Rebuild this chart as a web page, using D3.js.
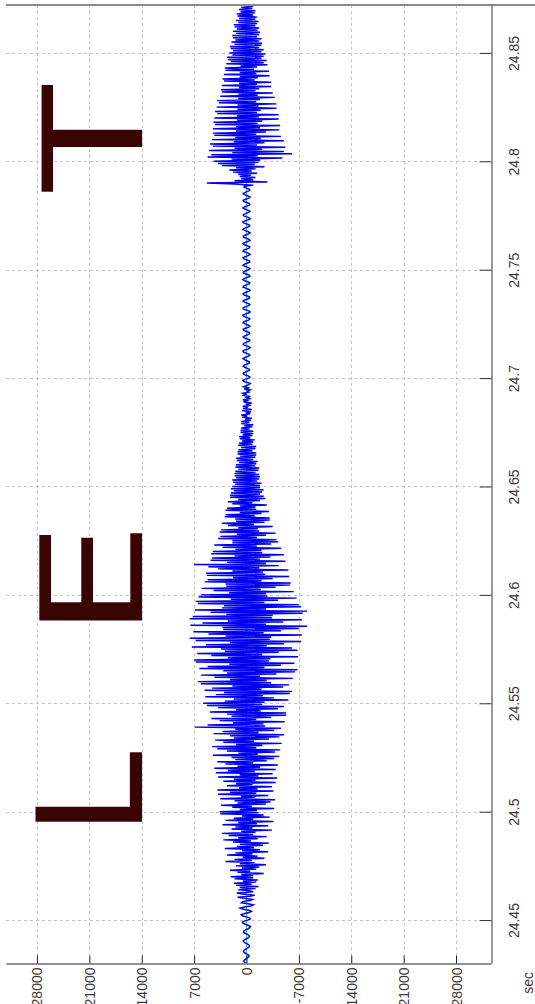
<!DOCTYPE html>
<html>
<head>
<meta charset="utf-8">
<script src="https://cdn.jsdelivr.net/npm/d3@7/dist/d3.min.js"></script>
<style>
  html, body { margin: 0; padding: 0; background: #ffffff; }
  svg { display: block; }
</style>
</head>
<body>
<svg id="chart" width="535" height="1004"></svg>
<script>
// ---------------- data ----------------
const timeTicks = [24.45, 24.5, 24.55, 24.6, 24.65, 24.7, 24.75, 24.8, 24.85];
const timeTickLabels = ["24.45", "24.5", "24.55", "24.6", "24.65", "24.7", "24.75", "24.8", "24.85"];
const ampTicks = [28000, 21000, 14000, 7000, 0, -7000, -14000, -21000, -28000];
const ampTickLabels = ["28000", "21000", "14000", "7000", "0", "-7000", "-14000", "-21000", "-28000"];
const timeLabel = "sec";
const timeDomain = [24.4302, 24.8721];
const ampDomain = [32141, -32676];

// waveform samples (one every 0.5 ms starting at 24.430 s)
const sampleStart = 24.430;
const sampleStep = 0.0005;
const amplitude = [
  100,250,380,300,120,-80,-260,-350,-200,50,
  280,420,350,150,-100,-300,-420,-330,-90,180,
  380,450,250,-50,-280,-400,-300,-60,220,400,
  350,120,-200,-450,-520,-250,100,420,560,300,
  -150,-500,-400,80,550,700,250,-350,-650,-300,
  400,850,300,-600,-900,-200,700,500,-450,-800,
  300,1200,-500,-1100,600,1300,-900,-400,1100,-1200,
  900,-1600,1400,-700,1700,-1300,500,-1500,1600,-900,
  2100,-900,700,-2300,1200,-500,2200,-1300,600,-1700,
  1400,-2600,900,-1100,2800,-700,1600,-2400,500,-1500,
  2600,-800,1500,-2900,600,-1800,2900,-1000,1300,-2200,
  900,-3000,1800,-600,3100,-1500,1100,-2700,2400,-900,
  3300,-1200,700,-3400,2000,-800,1500,-2900,3200,-1400,
  1100,-3600,2800,-900,1700,-3100,600,-2300,3500,-1600,
  3600,-1400,900,-3700,1900,-700,3400,-2600,1200,-3200,
  1600,-3800,3500,-1100,700,-2900,3800,-1300,2200,-3600,
  3900,-1500,1000,-3400,2600,-800,1400,-3900,3100,-1200,
  1700,-4100,3800,-1600,900,-3500,4100,-1100,2500,-3900,
  4300,-1800,1200,-4200,2800,-900,3900,-2700,1500,-3700,
  2000,-4400,4500,-1500,1100,-3800,2600,-4500,3900,-1300,
  4600,-2100,1400,-4700,3100,-1000,4200,-3000,1700,-4400,
  2200,-5000,4400,-1600,3200,-3700,1500,-4600,6900,-2500,
  5200,-2300,1800,-5100,3600,-1300,4700,-3300,2000,-5300,
  2600,-5300,4900,-1900,1400,-4200,3800,-5000,5300,-2100,
  5800,-2400,2900,-5600,1700,-3700,5500,-2200,4100,-5800,
  3000,-6100,5600,-2000,4600,-4900,1900,-5700,6100,-3300,
  6500,-2700,2200,-6200,4300,-1800,6100,-4000,2600,-6500,
  3100,-6800,6300,-2400,5200,-4600,2300,-6400,6800,-3000,
  7000,-3200,2500,-6900,4700,-2100,6600,-4300,2900,-6800,
  3400,-6100,7300,-2700,5400,-5000,2200,-7300,6800,-3100,
  7600,-3300,2800,-7400,5100,-2300,7100,-4600,3100,-7000,
  3200,-8100,7500,-2600,5900,-4900,2500,-7400,7600,-3400,
  7200,-3500,2700,-7500,4800,-8100,6900,-2600,3300,-7300,
  3000,-7000,6500,-2400,6800,-4200,2100,-6700,6400,-2800,
  6100,-2600,2300,-6300,4400,-1900,6000,-3900,2700,-5800,
  2800,-5900,5600,-2000,5200,-3500,1800,-5700,5300,-2500,
  5400,-2200,1900,-5600,3800,-1700,5100,-4300,7000,-2600,
  2600,-5200,4800,-1800,4600,-3200,1600,-5000,4700,-2100,
  4500,-2000,1500,-4600,3200,-1400,4300,-3300,1900,-4200,
  1900,-4000,3800,-1400,3500,-2600,1300,-3900,3600,-1700,
  3400,-1500,1100,-3500,2500,-1000,3300,-2400,1400,-3100,
  1500,-3100,2900,-1100,2800,-2000,900,-3000,2800,-1300,
  2600,-1200,900,-2700,1900,-800,2500,-1800,1100,-2500,
  2200,-2300,2200,-1800,2100,-2100,1700,-2300,2100,-1800,
  1900,-1800,1500,-2000,1800,-1400,1900,-1700,1400,-1800,
  1600,-1700,1600,-1200,1500,-1600,1100,-1700,1500,-1200,
  1400,-1300,1000,-1500,1300,-900,1400,-1200,900,-1300,
  1200,-1300,1200,-800,1100,-1200,700,-1300,1100,-800,
  1000,-900,600,-1100,900,-500,1000,-800,500,-900,
  800,-900,800,-400,700,-800,300,-900,700,-400,
  700,-600,200,-700,600,-100,700,-500,100,-600,
  600,-700,500,-200,500,-600,100,-700,400,-100,
  500,-400,0,-500,400,100,500,-300,-100,-500,
  300,-400,400,0,-300,-500,-100,400,500,100,
  -300,-450,-200,200,450,350,0,-350,-400,-100,
  250,450,300,-100,-400,-380,-50,300,450,200,
  -200,-450,-350,50,400,480,200,-250,-480,-300,
  100,420,400,50,-350,-450,-150,250,450,250,
  -150,-420,-380,0,380,450,150,-300,-450,-200,
  200,450,320,-80,-420,-400,-50,350,480,180,
  -250,-480,-300,100,450,420,50,-350,-460,-150,
  250,470,300,-120,-430,-380,0,380,450,150,
  -280,-470,-280,120,460,400,20,-380,-440,-100,
  300,480,250,-150,-460,-350,50,420,430,80,
  -320,-460,-220,180,470,330,-80,-440,-400,-30,
  350,460,200,-200,-470,-300,100,450,380,0,
  -380,-450,-150,250,480,280,-130,-460,-350,30,
  400,440,120,-280,-470,-240,170,470,330,-60,
  -400,-420,-80,320,480,200,-200,-470,-300,100,
  430,400,50,-340,-460,-160,240,480,260,-140,
  -440,-380,0,360,450,120,-280,-470,-220,180,
  450,330,-60,-400,-420,-60,320,300,-900,1500,
  5300,-2800,1600,-900,700,-1200,900,-600,1100,-1400,
  1800,-700,2300,-1200,1400,-2400,3300,-1100,3800,-1600,
  4400,-1800,2000,-4800,5200,-1500,4700,-6100,1900,-5000,
  5000,-2100,1600,-5200,4500,-1400,4900,-2400,1700,-5000,
  4600,-1900,1500,-4600,4300,-1300,4500,-2600,1400,-4400,
  4500,-1800,1400,-4500,4200,-1500,4400,-2100,1300,-4300,
  4300,-1700,1300,-4300,3900,-1400,4200,-1900,1200,-4000,
  4000,-1600,1200,-4000,3700,-1300,3900,-1800,1100,-3800,
  3500,-1500,1100,-3500,3300,-1200,3400,-1700,1000,-3300,
  3300,-1400,1000,-3300,3000,-1100,3200,-1500,900,-3100,
  3000,-1300,900,-3000,2800,-1000,2900,-1400,800,-2800,
  2700,-2300,2100,-2700,2500,-2000,2600,-2300,1900,-2500,
  2300,-2000,1800,-2300,2100,-1700,2200,-2000,1600,-2100,
  2000,-1700,1500,-2000,1800,-1400,1900,-1700,1400,-1800,
  1800,-1500,1300,-1700,1600,-1200,1700,-1400,1100,-1600,
  1400,-1200,1000,-1400,1200,-900,1300,-1100,800,-1200,
  1000,-800,700,-900
];
// reference trace (green) along zero
const refTimes = [24.4302, 24.8721];
const refValues = [0, 0];

// letter annotations (extent in data units)
const letterTexts = ["T", "E", "L"];
const letterTimeTop = [24.8357, 24.6286, 24.5280];
const letterTimeBottom = [24.7854, 24.5875, 24.4948];
const letterAmpLeft = [27597, 27731, 28265];
const letterAmpRight = [13966, 13966, 13966];

// ---------------- drawing ----------------
const svg = d3.select("#chart");
const plot = { left: 6, right: 491, top: 5, bottom: 963 };

const x = d3.scaleLinear().domain(ampDomain).range([plot.left, plot.right]);
const y = d3.scaleLinear().domain(timeDomain).range([plot.bottom, plot.top]);

const font = "'Liberation Sans', Arial, Helvetica, sans-serif";

// grid
const grid = svg.append("g").attr("class", "grid");
grid.selectAll("line.v").data(ampTicks).join("line")
  .attr("x1", d => Math.round(x(d)) + 0.5).attr("x2", d => Math.round(x(d)) + 0.5)
  .attr("y1", plot.top).attr("y2", plot.bottom)
  .attr("stroke", "#c4c4c4").attr("stroke-width", 1).attr("stroke-dasharray", "3,3");
grid.selectAll("line.h").data(timeTicks).join("line")
  .attr("y1", d => Math.round(y(d)) + 0.5).attr("y2", d => Math.round(y(d)) + 0.5)
  .attr("x1", plot.left).attr("x2", plot.right)
  .attr("stroke", "#c4c4c4").attr("stroke-width", 1).attr("stroke-dasharray", "3,3");

// letters
letterTexts.forEach((ch, i) => {
  const x0 = x(letterAmpLeft[i]), x1 = x(letterAmpRight[i]);
  const y0 = y(letterTimeTop[i]), y1 = y(letterTimeBottom[i]);
  const cvs = document.createElement("canvas");
  const ctx = cvs.getContext("2d");
  ctx.font = "100px 'DejaVu Sans'";
  const m = ctx.measureText(ch);
  const L = m.actualBoundingBoxLeft, R = m.actualBoundingBoxRight;
  const A = m.actualBoundingBoxAscent, D = m.actualBoundingBoxDescent;
  const sy = (x1 - x0) / (A + D);
  const sx = (y1 - y0) / (R + L);
  const tx = x0 + sy * A;
  const ty = y0 + sx * R;
  svg.append("text")
    .attr("transform", `translate(${tx},${ty}) rotate(-90) scale(${sx},${sy})`)
    .attr("font-family", "'DejaVu Sans'")
    .attr("font-size", 100)
    .attr("fill", "#3a0404")
    .text(ch);
});

// clip
svg.append("clipPath").attr("id", "clip").append("rect")
  .attr("x", plot.left).attr("y", plot.top)
  .attr("width", plot.right - plot.left).attr("height", plot.bottom - plot.top);

const series = amplitude.map((v, i) => ({ t: sampleStart + i * sampleStep, v }));
const line = d3.line().x(d => x(d.v)).y(d => y(d.t));

svg.append("path")
  .datum(refTimes.map((t, i) => ({ t, v: refValues[i] })))
  .attr("clip-path", "url(#clip)")
  .attr("d", line)
  .attr("fill", "none").attr("stroke", "#3fbf9f").attr("stroke-width", 1);

svg.append("path")
  .datum(series)
  .attr("clip-path", "url(#clip)")
  .attr("d", line)
  .attr("fill", "none").attr("stroke", "#0000f0").attr("stroke-width", 1.45)
  .attr("stroke-linejoin", "miter");

// top border line
svg.append("line")
  .attr("x1", plot.left).attr("x2", 535).attr("y1", plot.top).attr("y2", plot.top)
  .attr("stroke", "#8a8a8a").attr("stroke-width", 2);

// right (time) axis
const rightAxis = d3.axisRight(y).tickValues(timeTicks)
  .tickFormat((d, i) => timeTickLabels[i]).tickSizeInner(-12).tickSizeOuter(0);
const gR = svg.append("g").attr("transform", `translate(${plot.right + 0.5},0)`).call(rightAxis);
gR.select(".domain").attr("stroke", "#333");
gR.selectAll(".tick line").attr("stroke", "#333");
gR.selectAll(".tick text")
  .attr("x", null).attr("dy", null)
  .attr("transform", "translate(27,0) rotate(-90)")
  .attr("text-anchor", "middle")
  .attr("font-family", font).attr("font-size", 14).attr("fill", "#3a3a3a");

// bottom (amplitude) axis
const bottomAxis = d3.axisBottom(x).tickValues(ampTicks)
  .tickFormat((d, i) => ampTickLabels[i]).tickSizeInner(-8).tickSizeOuter(0);
const gB = svg.append("g").attr("transform", `translate(0,${plot.bottom + 0.5})`).call(bottomAxis);
gB.select(".domain").attr("stroke", "#222");
gB.selectAll(".tick line").attr("stroke", "#222");
gB.selectAll(".tick text")
  .attr("y", null).attr("dy", null)
  .attr("transform", "translate(5,4) rotate(-90)")
  .attr("text-anchor", "end")
  .attr("font-family", font).attr("font-size", 14).attr("fill", "#3a3a3a");

// axis label
svg.append("text")
  .attr("transform", `translate(533,${plot.bottom + 9}) rotate(-90)`)
  .attr("text-anchor", "end")
  .attr("font-family", font).attr("font-size", 14).attr("fill", "#3a3a3a")
  .text(timeLabel);
</script>
</body>
</html>
